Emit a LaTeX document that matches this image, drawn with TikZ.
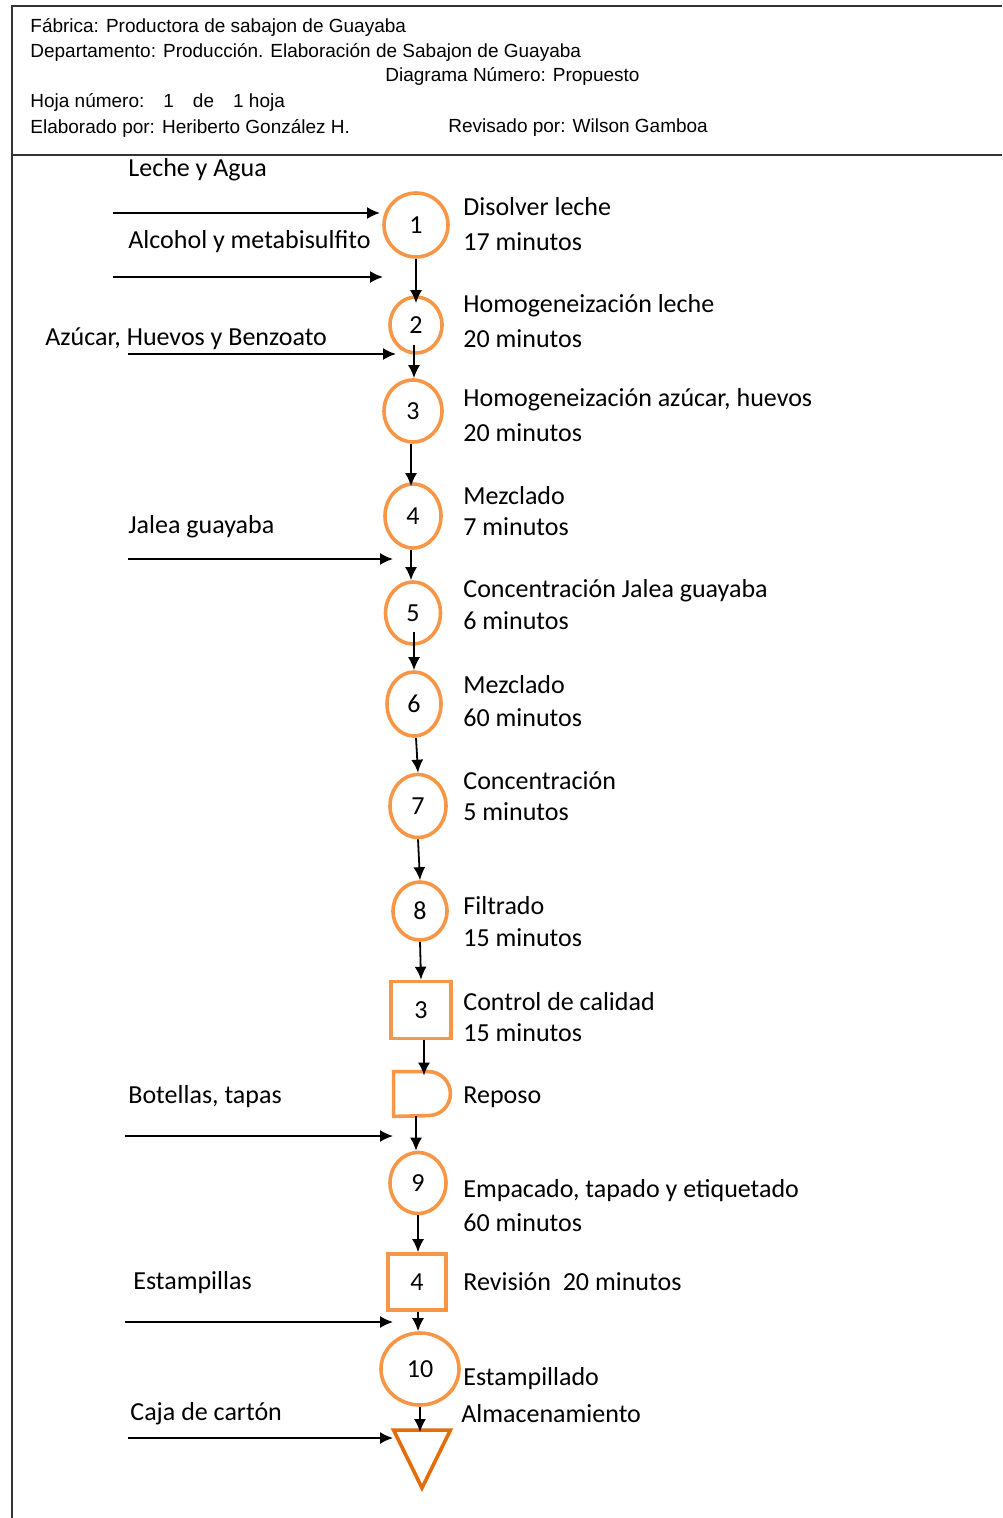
\documentclass[tikz,border=0pt]{standalone}
\usepackage{fontspec}
\setmainfont{Carlito}
\newfontfamily\hdrfont{Liberation Sans}
\usetikzlibrary{shapes.geometric,arrows.meta}
\definecolor{opor}{RGB}{247,150,70}
\definecolor{opdark}{RGB}{228,108,10}
\tikzset{
  frameline/.style={line width=1pt,draw=black!80},
  hdr/.style={anchor=west,inner sep=0pt,font=\hdrfont\fontsize{9.5}{11}\selectfont},
  lbl/.style={anchor=west,inner sep=0pt,font=\fontsize{13}{15}\selectfont},
  oper/.style={ellipse,draw=opor,line width=1.8pt,inner sep=0pt,font=\fontsize{13}{15}\selectfont},
  insp/.style={rectangle,draw=opor,line width=1.8pt,inner sep=0pt,font=\fontsize{13}{15}\selectfont},
  ghost/.style={rectangle,inner sep=0pt},
  flow/.style={line width=0.9pt,-{Latex[length=6.5pt,width=6pt]}}
}
\begin{document}
\begin{tikzpicture}[x=0.5pt,y=-0.5pt]
\useasboundingbox (0,0) rectangle (1002,1518);
% frame
\coordinate (ftl) at (12,6);
\coordinate (ftr) at (1002,6);
\coordinate (fbl) at (12,1518);
\coordinate (fml) at (12,155);
\coordinate (fmr) at (1002,155);
\draw[frameline] (ftr) -- (ftl) -- (fbl);
\draw[frameline] (fml) -- (fmr);
% header
\node[hdr] (h1) at (30,27) {Fábrica: Productora de sabajon de Guayaba};
\node[hdr] (h2) at (30,52) {Departamento: Producción. Elaboración de Sabajon de Guayaba};
\node[hdr] (h3) at (385,76) {Diagrama Número: Propuesto};
\node[hdr] (h4) at (30,102) {Hoja número:\quad 1\quad de\quad 1 hoja};
\node[hdr] (h5) at (30,128) {Elaborado por: Heriberto González H.};
\node[hdr] (h6) at (448,128) {Revisado por: Wilson Gamboa};
% process nodes
\node[oper,minimum width=32pt,minimum height=32pt] (n1) at (416,225) {1};
\node[oper,minimum width=26pt,minimum height=28pt] (n2) at (416,325) {2};
\node[oper,minimum width=29pt,minimum height=31pt] (n3) at (413,411) {3};
\node[oper,minimum width=28pt,minimum height=32pt] (n4) at (413,516) {4};
\node[oper,minimum width=27.5pt,minimum height=31pt] (n5) at (413,613) {5};
\node[oper,minimum width=27pt,minimum height=32pt] (n6) at (414,704) {6};
\node[oper,minimum width=28pt,minimum height=31.5pt] (n7) at (418,806) {7};
\node[oper,minimum width=27pt,minimum height=29pt] (n8) at (420,911) {8};
\node[insp,minimum width=30pt,minimum height=28.5pt] (q3) at (421,1010) {3};
\node[ghost,minimum width=28pt,minimum height=22pt] (dl) at (422,1094) {};
\draw[opor,line width=1.8pt] (dl.north west) -- ([xshift=-11pt]dl.north east)
  arc[start angle=90,end angle=-90,x radius=11pt,y radius=11pt] -- (dl.south west) -- cycle;
\node[oper,minimum width=28pt,minimum height=30.5pt] (n9) at (418,1183) {9};
\node[insp,minimum width=29pt,minimum height=28pt] (q4) at (417,1282) {4};
\node[oper,minimum width=39pt,minimum height=36pt] (n10) at (420,1369) {10};
\node[ghost,minimum width=28pt,minimum height=28.5pt] (tri) at (422,1459) {};
\draw[opdark,line width=1.8pt,line join=miter] (tri.north west) -- (tri.north east) -- (tri.south) -- cycle;
% flow arrows
\draw[flow] (n1.south) -- ([yshift=-4pt]n1.south |- n2.north);
\draw[flow] ([xshift=-1pt,yshift=5pt]n2.south) -- ([xshift=-1pt]n2.south |- n3.north);
\draw[flow] ([xshift=-1pt]n3.south) -- ([xshift=-1pt,yshift=-2pt]n3.south |- n4.north);
\draw[flow] ([xshift=-1pt]n4.south) -- ([xshift=-1pt]n4.south |- n5.north);
\draw[flow] ([xshift=0.5pt,yshift=7pt]n5.south) -- ([xshift=0.5pt]n5.south |- n6.north);
\draw[flow] ([xshift=1pt]n6.south) -- (n7.north);
\draw[flow] (n7.south) -- (n8.north);
\draw[flow] (n8.south) -- (q3.north);
\draw[flow] ([xshift=1.5pt]q3.south) -- ([xshift=1.5pt,yshift=-2pt]q3.south |- dl.north);
\draw[flow] ([xshift=-3pt]dl.south) -- ([xshift=-3pt]dl.south |- n9.north);
\draw[flow] (n9.south) -- (n9.south |- q4.north);
\draw[flow] ([xshift=0.5pt]q4.south) -- ([xshift=0.5pt]q4.south |- n10.north);
\draw[flow] (n10.south) -- ([yshift=-1pt]n10.south |- tri.north);
% inputs
\node[lbl] (i1) at (128,170) {Leche y Agua};
\coordinate (i1a) at (113,213); \coordinate (i1b) at (380,213);
\draw[flow] (i1a) -- (i1b);
\node[lbl] (i2) at (128,242) {Alcohol y metabisulfito};
\coordinate (i2a) at (113,277); \coordinate (i2b) at (383,277);
\draw[flow] (i2a) -- (i2b);
\node[lbl] (i3) at (45,339) {Azúcar, Huevos y Benzoato};
\coordinate (i3a) at (128,354); \coordinate (i3b) at (396,354);
\draw[flow] (i3a) -- (i3b);
\node[lbl] (i4) at (128,527) {Jalea guayaba};
\coordinate (i4a) at (128,559); \coordinate (i4b) at (393,559);
\draw[flow] (i4a) -- (i4b);
\node[lbl] (i5) at (128,1097) {Botellas, tapas};
\coordinate (i5a) at (125,1136); \coordinate (i5b) at (393,1136);
\draw[flow] (i5a) -- (i5b);
\node[lbl] (i6) at (133,1283) {Estampillas};
\coordinate (i6a) at (125,1322); \coordinate (i6b) at (393,1322);
\draw[flow] (i6a) -- (i6b);
\node[lbl] (i7) at (130,1414) {Caja de cartón};
\coordinate (i7a) at (128,1438); \coordinate (i7b) at (393,1438);
\draw[flow] (i7a) -- (i7b);
% step labels
\node[lbl] (t1a) at (463,207) {Disolver leche};
\node[lbl] (t1b) at (463,242) {17 minutos};
\node[lbl] (t2a) at (463,306) {Homogeneización leche};
\node[lbl] (t2b) at (463,339) {20 minutos};
\node[lbl] (t3a) at (463,400) {Homogeneización azúcar, huevos};
\node[lbl] (t3b) at (463,433) {20 minutos};
\node[lbl] (t4a) at (463,496) {Mezclado};
\node[lbl] (t4b) at (463,527) {7 minutos};
\node[lbl] (t5a) at (463,591) {Concentración Jalea guayaba};
\node[lbl] (t5b) at (463,621) {6 minutos};
\node[lbl] (t6a) at (463,685) {Mezclado};
\node[lbl] (t6b) at (463,718) {60 minutos};
\node[lbl] (t7a) at (463,781) {Concentración};
\node[lbl] (t7b) at (463,812) {5 minutos};
\node[lbl] (t8a) at (463,906) {Filtrado};
\node[lbl] (t8b) at (463,938) {15 minutos};
\node[lbl] (tqa) at (463,1002) {Control de calidad};
\node[lbl] (tqb) at (463,1033) {15 minutos};
\node[lbl] (tr) at (463,1097) {Reposo};
\node[lbl] (t9a) at (463,1191) {Empacado, tapado y etiquetado};
\node[lbl] (t9b) at (463,1223) {60 minutos};
\node[lbl] (t4q) at (463,1282) {Revisión\ \ 20 minutos};
\node[lbl] (t10) at (463,1379) {Estampillado};
\node[lbl] (tal) at (461,1414) {Almacenamiento};
\end{tikzpicture}
\end{document}
